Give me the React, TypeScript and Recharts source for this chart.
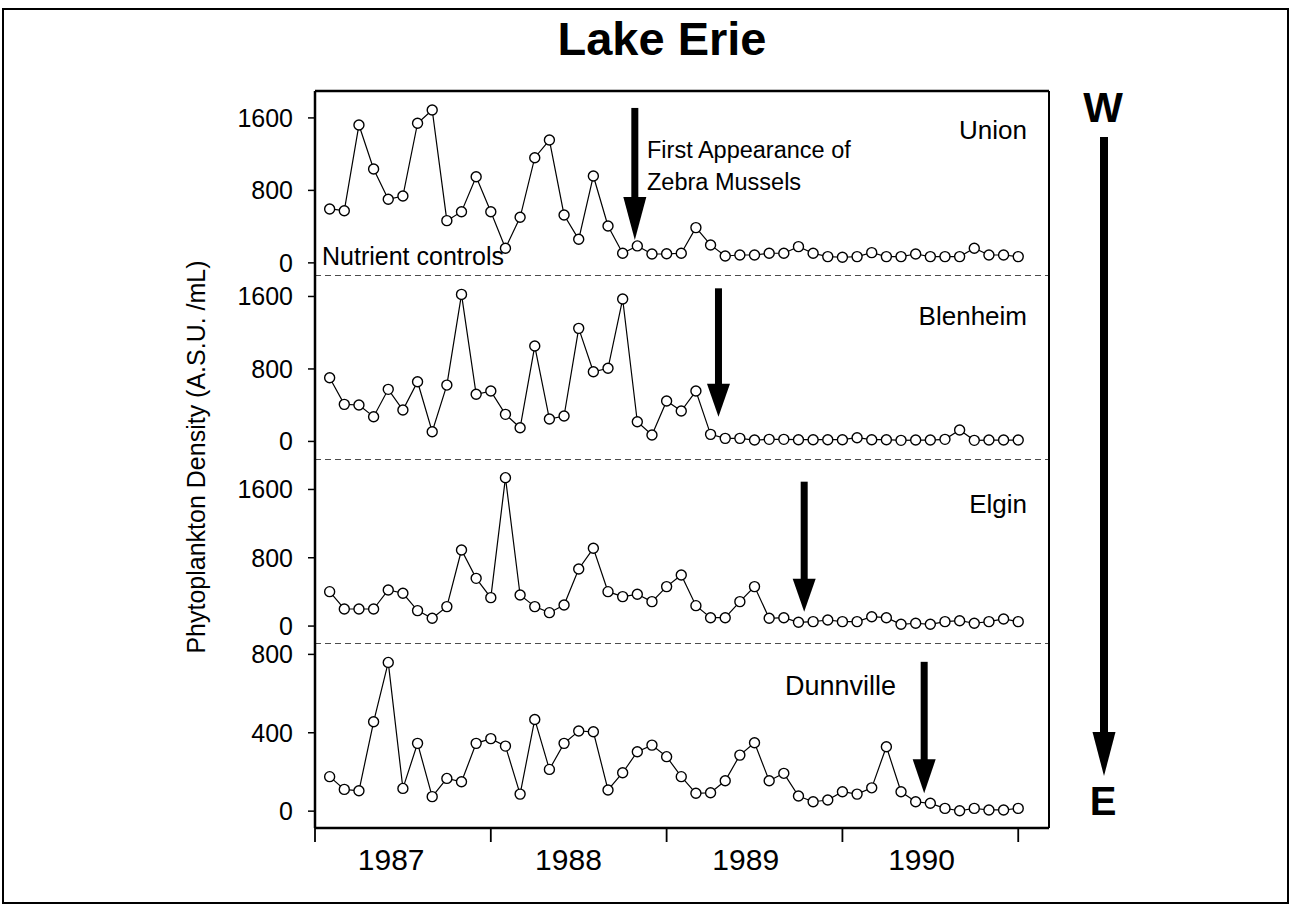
import React from 'react';
import { LineChart, Line, XAxis, YAxis, ReferenceLine } from 'recharts';

// monthly phytoplankton density, Jan 1987 .. Dec 1990 (A.S.U./mL)
const union = [595, 576, 1522, 1036, 702, 738, 1541, 1688, 466, 565, 951, 565, 161, 503, 1161, 1356, 529, 260, 959, 407, 106, 187, 98, 100, 106, 389, 198, 76, 87, 87, 106, 106, 179, 106, 69, 62, 69, 113, 69, 69, 98, 69, 69, 69, 161, 87, 87, 69];
const blenheim = [703, 409, 402, 273, 575, 347, 659, 107, 622, 1623, 520, 556, 299, 151, 1053, 247, 280, 1248, 769, 807, 1572, 217, 71, 446, 336, 556, 78, 34, 34, 15, 23, 23, 19, 19, 19, 19, 41, 19, 19, 12, 15, 15, 23, 126, 12, 15, 15, 15];
const elgin = [403, 200, 200, 200, 423, 384, 181, 91, 228, 891, 559, 333, 1738, 364, 228, 157, 247, 669, 911, 403, 345, 372, 286, 462, 598, 239, 98, 98, 286, 462, 91, 98, 44, 52, 71, 52, 52, 110, 98, 21, 33, 21, 52, 63, 33, 52, 83, 52];
const dunnville = [176, 111, 104, 456, 759, 116, 346, 74, 167, 150, 346, 370, 332, 87, 468, 213, 346, 409, 405, 108, 196, 303, 337, 278, 176, 91, 94, 155, 286, 349, 155, 193, 77, 48, 57, 99, 87, 119, 329, 99, 48, 40, 14, 2, 14, 6, 6, 14];

const years = ['1987', '1988', '1989', '1990'];
const yearEdges = [-1, 11, 23, 35, 47];
const yearLabelPos = [4.2, 16.3, 28.4, 40.4];
const xDomain = [-1, 49.1];

const rows = union.map((u, i) => ({
  i,
  union: u,
  blenheim: blenheim[i],
  elgin: elgin[i],
  dunnville: dunnville[i],
}));

const FONT = '"Liberation Sans", Arial, Helvetica, sans-serif';
const PLOT_LEFT = 315;
const PLOT_RIGHT = 1049;
const Y_AXIS_W = 80;
const PAD = 20; // room above each panel so tick labels are not cut

// arrows mark first appearance of zebra mussels (month index, from, to)
const panels = [
  { key: 'union', top: 91, plotH: 185, domain: [-145, 1897], ticks: [0, 800, 1600], arrow: { x: 20.83, from: 1710, to: 253, head: 43 } },
  { key: 'blenheim', top: 276, plotH: 184, domain: [-205, 1826], ticks: [0, 800, 1600], arrow: { x: 26.54, from: 1690, to: 273, head: 33 } },
  { key: 'elgin', top: 460, plotH: 184, domain: [-210, 1945], ticks: [0, 800, 1600], arrow: { x: 32.39, from: 1691, to: 169, head: 33 } },
  { key: 'dunnville', top: 644, plotH: 184, domain: [-86, 853], ticks: [0, 400, 800], arrow: { x: 40.58, from: 762, to: 91, head: 34 } },
];
const X_AXIS_H = 79;

function ArrowShape(props: any) {
  const { x1, y1, x2, y2, head } = props;
  if (x1 == null || y1 == null) return null;
  const top = Math.min(y1, y2);
  const tip = Math.max(y1, y2);
  const x = (x1 + x2) / 2;
  return (
    <g>
      <rect x={x - 3.5} y={top} width={7} height={tip - top - head + 2} fill="#000" />
      <polygon points={`${x - 11.5},${tip - head} ${x + 11.5},${tip - head} ${x},${tip}`} fill="#000" />
    </g>
  );
}

function YearTick(props: any) {
  const { x, y, payload } = props;
  const k = yearLabelPos.indexOf(payload.value);
  if (k >= 0) {
    return (
      <text x={x} y={y + 42} textAnchor="middle" fontSize={30} fontFamily={FONT} fill="#000">
        {years[k]}
      </text>
    );
  }
  return <line x1={x} x2={x} y1={y} y2={y + 14} stroke="#000" strokeWidth={1.8} />;
}

function Panel({ p, last }: { p: any; last: boolean }) {
  const xh = last ? X_AXIS_H : 0;
  return (
    <div style={{ position: 'absolute', left: 0, top: p.top - PAD }}>
      <LineChart
        width={1290}
        height={p.plotH + PAD + xh}
        data={rows}
        style={{ overflow: 'visible' }}
        margin={{ top: PAD, right: 1290 - PLOT_RIGHT, bottom: 0, left: PLOT_LEFT - Y_AXIS_W }}
      >
        <XAxis
          type="number"
          dataKey="i"
          domain={xDomain}
          allowDataOverflow
          hide={!last}
          height={xh}
          ticks={[...yearEdges, ...yearLabelPos]}
          interval={0}
          tickSize={0}
          tickMargin={0}
          tickLine={false}
          tick={<YearTick />}
          axisLine={{ stroke: '#000', strokeWidth: 2.5 }}
        />
        <YAxis
          width={Y_AXIS_W}
          domain={p.domain}
          ticks={p.ticks}
          allowDataOverflow
          interval={0}
          tickSize={7}
          tickMargin={15}
          tick={{ fontSize: 25, fill: '#000', fontFamily: FONT }}
          axisLine={{ stroke: '#000', strokeWidth: 2.5 }}
          tickLine={{ stroke: '#000', strokeWidth: 1.5 }}
        />
        {!last && (
          <ReferenceLine y={p.domain[0]} stroke="#111" strokeWidth={1.4} strokeDasharray="6 4" ifOverflow="visible" />
        )}
        <ReferenceLine
          segment={[
            { x: p.arrow.x, y: p.arrow.from },
            { x: p.arrow.x, y: p.arrow.to },
          ]}
          ifOverflow="visible"
          shape={(s: any) => <ArrowShape {...s} head={p.arrow.head} />}
        />
        <Line
          type="linear"
          dataKey={p.key}
          stroke="#000"
          strokeWidth={1.2}
          dot={{ r: 5, fill: '#fff', stroke: '#000', strokeWidth: 1.4 }}
          isAnimationActive={false}
        />
      </LineChart>
    </div>
  );
}

export default function App() {
  return (
    <div style={{ position: 'absolute', left: 0, top: 0, width: 1290, height: 907, background: '#fff', fontFamily: FONT }}>
      {panels.map((p, k) => (
        <Panel key={p.key} p={p} last={k === panels.length - 1} />
      ))}
      <svg width={1290} height={907} style={{ position: 'absolute', left: 0, top: 0, pointerEvents: 'none' }} fontFamily={FONT}>
        <rect x={3} y={9} width={1285} height={894} fill="none" stroke="#000" strokeWidth={2} />
        <line x1={PLOT_LEFT} x2={PLOT_RIGHT} y1={91} y2={91} stroke="#000" strokeWidth={2.5} />
        <line x1={PLOT_RIGHT} x2={PLOT_RIGHT} y1={91} y2={828} stroke="#000" strokeWidth={2} />

        <text x={662} y={55} textAnchor="middle" fontSize={47} fontWeight="bold" fill="#000">Lake Erie</text>

        <text x={1027} y={139} textAnchor="end" fontSize={26} fill="#000">Union</text>
        <text x={1027} y={325} textAnchor="end" fontSize={26} fill="#000">Blenheim</text>
        <text x={1027} y={513} textAnchor="end" fontSize={26} fill="#000">Elgin</text>
        <text x={785} y={695} fontSize={27} fill="#000">Dunnville</text>

        <text x={647} y={158} fontSize={23.5} fill="#000">First Appearance of</text>
        <text x={647} y={190} fontSize={23.5} fill="#000">Zebra Mussels</text>
        <text x={322} y={265} fontSize={25} fill="#000">Nutrient controls</text>

        <text
          x={196}
          y={457}
          textAnchor="middle"
          dominantBaseline="central"
          fontSize={25}
          fill="#000"
          transform="rotate(-90 196 457)"
        >
          Phytoplankton Density (A.S.U. /mL)
        </text>

        <text x={1103} y={122} textAnchor="middle" fontSize={42} fontWeight="bold" fill="#000">W</text>
        <rect x={1100} y={137} width={8} height={598} fill="#000" />
        <polygon points="1092.5,732 1115.5,732 1104,776" fill="#000" />
        <text x={1103} y={815} textAnchor="middle" fontSize={40} fontWeight="bold" fill="#000">E</text>
      </svg>
    </div>
  );
}
